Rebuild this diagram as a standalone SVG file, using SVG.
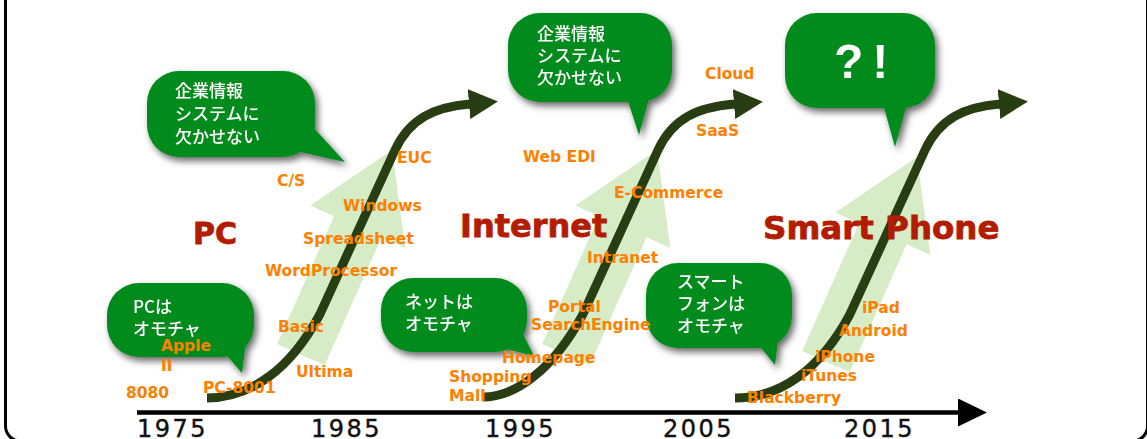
<svg xmlns="http://www.w3.org/2000/svg" width="1147" height="439" viewBox="0 0 1147 439">
<style>
.frame{fill:none;stroke:#000;stroke-width:3}
.axis{stroke:#000;stroke-width:4.5;fill:none}
.yr{font-family:"DejaVu Sans",sans-serif;font-size:24px;letter-spacing:2.5px;fill:#111;stroke:#111;stroke-width:0.4}
.glow{fill:#d6ecc6}
.curve{fill:none;stroke:#283d12;stroke-width:9;marker-end:url(#ah)}
.bub{fill:#058b1e}
.bt{font-family:"Noto Sans CJK JP","Noto Sans",sans-serif;font-size:17px;font-weight:500;fill:#fff}
.ttl{font-family:"DejaVu Sans",sans-serif;font-weight:bold;fill:#b31c00;stroke:#b31c00;stroke-width:0.8}
.lb{font-family:"DejaVu Sans",sans-serif;font-weight:bold;font-size:15.5px;fill:#ff8000}
</style>
<defs>
<marker id="ah" viewBox="0 0 29 30" markerWidth="29" markerHeight="30" refX="1" refY="15" orient="auto" markerUnits="userSpaceOnUse">
<path d="M0,0 L29,15 L0,30 Z" fill="#283d12"/>
</marker>
<marker id="axh" viewBox="0 0 29 28" markerWidth="29" markerHeight="28" refX="1" refY="14" orient="auto" markerUnits="userSpaceOnUse">
<path d="M0,0 L29,14 L0,28 Z" fill="#000"/>
</marker>
<filter id="sh" x="-20%" y="-20%" width="140%" height="150%">
<feDropShadow dx="3" dy="4" stdDeviation="3.5" flood-color="#000" flood-opacity="0.6"/>
</filter>
<polygon id="bigarrow" points="0,0 52,84 26,84 26,224 -26,224 -26,84 -52,84"/>
</defs>

<rect class="frame" x="5.5" y="-30" width="1142" height="471" rx="15"/>

<g id="axis">
<line class="axis" x1="137" y1="412.5" x2="959" y2="412.5" marker-end="url(#axh)"/>
<text class="yr" x="137" y="437">1975</text>
<text class="yr" x="311" y="437">1985</text>
<text class="yr" x="485" y="437">1995</text>
<text class="yr" x="663" y="437">2005</text>
<text class="yr" x="844" y="437">2015</text>
</g>

<g id="glow-arrows">
<use href="#bigarrow" class="glow" transform="translate(392,150) rotate(24)"/>
<use href="#bigarrow" class="glow" transform="translate(657,150) rotate(24)"/>
<use href="#bigarrow" class="glow" transform="translate(917,157) rotate(24)"/>
</g>

<g id="connectors">
<path class="curve" d="M207,398 C250,398 290,370 320,314 L395,150 C410,118 435,107 470,104"/>
<path class="curve" d="M483,397 C515,397 553,370 583,314 L658,150 C673,118 698,107 735,104"/>
<path class="curve" d="M735,398 C780,398 820,370 850,314 L925,150 C940,118 965,107 1000,104"/>
</g>

<g id="bubble-enterprise-1" filter="url(#sh)">
<rect class="bub" x="147" y="71" width="168" height="86" rx="32"/>
<polygon class="bub" points="312,126 345,162 296,151"/>
<text class="bt" x="175" y="97">企業情報</text>
<text class="bt" x="175" y="120">システムに</text>
<text class="bt" x="175" y="143">欠かせない</text>
</g>

<g id="bubble-pc" filter="url(#sh)">
<rect class="bub" x="107" y="283" width="147" height="74" rx="32"/>
<polygon class="bub" points="222,350 242,373 246,340"/>
<text class="bt" x="133" y="313">PCは</text>
<text class="bt" x="133" y="335">オモチャ</text>
</g>

<g id="bubble-enterprise-2" filter="url(#sh)">
<rect class="bub" x="508" y="13" width="164" height="89" rx="32"/>
<polygon class="bub" points="627,98 639,135 649,98"/>
<text class="bt" x="537" y="40">企業情報</text>
<text class="bt" x="537" y="62">システムに</text>
<text class="bt" x="537" y="84">欠かせない</text>
</g>

<g id="bubble-question" filter="url(#sh)">
<rect class="bub" x="785" y="13" width="150" height="95" rx="32"/>
<polygon class="bub" points="883,104 895,147 907,104"/>
<text x="834" y="78" style="font-family:'Liberation Sans',sans-serif;font-weight:bold;font-size:48px;fill:#fff;letter-spacing:9px">?!</text>
</g>

<g id="bubble-net" filter="url(#sh)">
<rect class="bub" x="381" y="278" width="146" height="74" rx="32"/>
<polygon class="bub" points="503,348 534,356 520,328"/>
<text class="bt" x="405" y="308">ネットは</text>
<text class="bt" x="405" y="330">オモチャ</text>
</g>

<g id="bubble-smartphone" filter="url(#sh)">
<rect class="bub" x="646" y="263" width="146" height="85" rx="32"/>
<polygon class="bub" points="758,344 775,365 779,333"/>
<text class="bt" x="677" y="288">スマート</text>
<text class="bt" x="677" y="310">フォンは</text>
<text class="bt" x="677" y="332">オモチャ</text>
</g>

<g id="titles">
<text class="ttl" x="193" y="244" style="font-size:30px">PC</text>
<text class="ttl" x="460" y="237" style="font-size:32px">Internet</text>
<text class="ttl" x="763" y="239" style="font-size:32.5px">Smart Phone</text>
</g>

<g id="labels-pc">
<text class="lb" x="277" y="186">C/S</text>
<text class="lb" x="397" y="163">EUC</text>
<text class="lb" x="343" y="211">Windows</text>
<text class="lb" x="303" y="244">Spreadsheet</text>
<text class="lb" x="265" y="276">WordProcessor</text>
<text class="lb" x="278" y="332">Basic</text>
<text class="lb" x="296" y="377">Ultima</text>
<text class="lb" x="203" y="393">PC-8001</text>
<text class="lb" x="126" y="398">8080</text>
<text class="lb" x="161" y="351">Apple</text>
<text class="lb" x="161" y="371">II</text>
</g>

<g id="labels-internet">
<text class="lb" x="523" y="162">Web EDI</text>
<text class="lb" x="705" y="79">Cloud</text>
<text class="lb" x="696" y="136">SaaS</text>
<text class="lb" x="614" y="198">E-Commerce</text>
<text class="lb" x="587" y="263">Intranet</text>
<text class="lb" x="548" y="312">Portal</text>
<text class="lb" x="531" y="330">SearchEngine</text>
<text class="lb" x="502" y="363">Homepage</text>
<text class="lb" x="449" y="382">Shopping</text>
<text class="lb" x="449" y="401">Mall</text>
</g>

<g id="labels-smartphone">
<text class="lb" x="862" y="313">iPad</text>
<text class="lb" x="839" y="336">Android</text>
<text class="lb" x="815" y="362">iPhone</text>
<text class="lb" x="801" y="381">iTunes</text>
<text class="lb" x="747" y="403">Blackberry</text>
</g>
</svg>
